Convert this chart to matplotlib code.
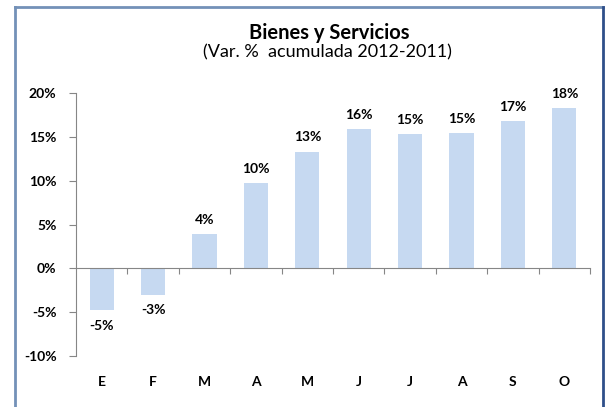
import matplotlib
matplotlib.use("Agg")
import matplotlib.pyplot as plt
from matplotlib.lines import Line2D
import matplotlib.transforms as mtransforms

categories = ["E", "F", "M", "A", "M", "J", "J", "A", "S", "O"]
values = [-4.8, -3.0, 3.9, 9.7, 13.3, 15.9, 15.3, 15.4, 16.8, 18.3]
labels = ["-5%", "-3%", "4%", "10%", "13%", "16%", "15%", "15%", "17%", "18%"]
yticks = [-10, -5, 0, 5, 10, 15, 20]

plt.rcParams['font.family'] = ['Lato', 'DejaVu Sans']

fig = plt.figure(figsize=(6.06, 4.07), dpi=100)
ax = fig.add_axes([76/606, 51/407, (590-76)/606, (356-93)/407])

x = list(range(len(categories)))
ax.bar(x, values, width=0.47, color="#C6D9F1", edgecolor="none", zorder=2)

for xi, v, lab in zip(x, values, labels):
    if v >= 0:
        ax.annotate(lab, (xi, v), xytext=(0, 6), textcoords="offset points",
                    ha="center", va="bottom", fontsize=10, fontweight="bold")
    else:
        ax.annotate(lab, (xi, v), xytext=(0, -7), textcoords="offset points",
                    ha="center", va="top", fontsize=10, fontweight="bold")

ax.set_xlim(-0.5, len(categories) - 0.5)
ax.set_ylim(-10, 20)
ax.set_yticks(yticks)
ax.set_yticklabels([f"{t}%" for t in yticks], fontsize=10, fontweight="bold")
ax.tick_params(axis="y", direction="out", length=5, width=0.8, color="#868686", pad=9)

ax.spines["top"].set_visible(False)
ax.spines["right"].set_visible(False)
ax.spines["left"].set_color("#868686")
ax.spines["bottom"].set_color("#868686")
ax.spines["bottom"].set_position(("data", 0))
ax.spines["left"].set_linewidth(0.8)
ax.spines["bottom"].set_linewidth(0.8)

ax.set_xticks(x)
ax.set_xticklabels([])
ax.tick_params(axis="x", which="major", length=0)
ax.set_xticks([i + 0.5 for i in x], minor=True)
ax.tick_params(axis="x", which="minor", direction="out", length=4, width=0.8, color="#868686")

trans = mtransforms.blended_transform_factory(ax.transData, ax.transAxes)
for xi, c in zip(x, categories):
    ax.text(xi, -0.099, c, transform=trans, ha="center", va="center",
            fontsize=10, fontweight="bold")

fig.text(329/606, 1 - 33/407, "Bienes y Servicios", ha="center", va="center",
         fontsize=14.5, fontweight="bold")
fig.text(327/606, 1 - 52/407, "(Var. %  acumulada 2012-2011)", ha="center", va="center",
         fontsize=13)

# chart border
fig.add_artist(Line2D([15/606, 15/606], [0, 1 - 7/407], transform=fig.transFigure,
                      color="#7391B8", lw=2))
fig.add_artist(Line2D([15/606, 603/606], [1 - 7/407, 1 - 7/407], transform=fig.transFigure,
                      color="#7391B8", lw=2))
fig.add_artist(Line2D([603/606, 603/606], [0, 1 - 7/407], transform=fig.transFigure,
                      color="#2F4F8A", lw=2))

fig.savefig("out.png", dpi=100)
